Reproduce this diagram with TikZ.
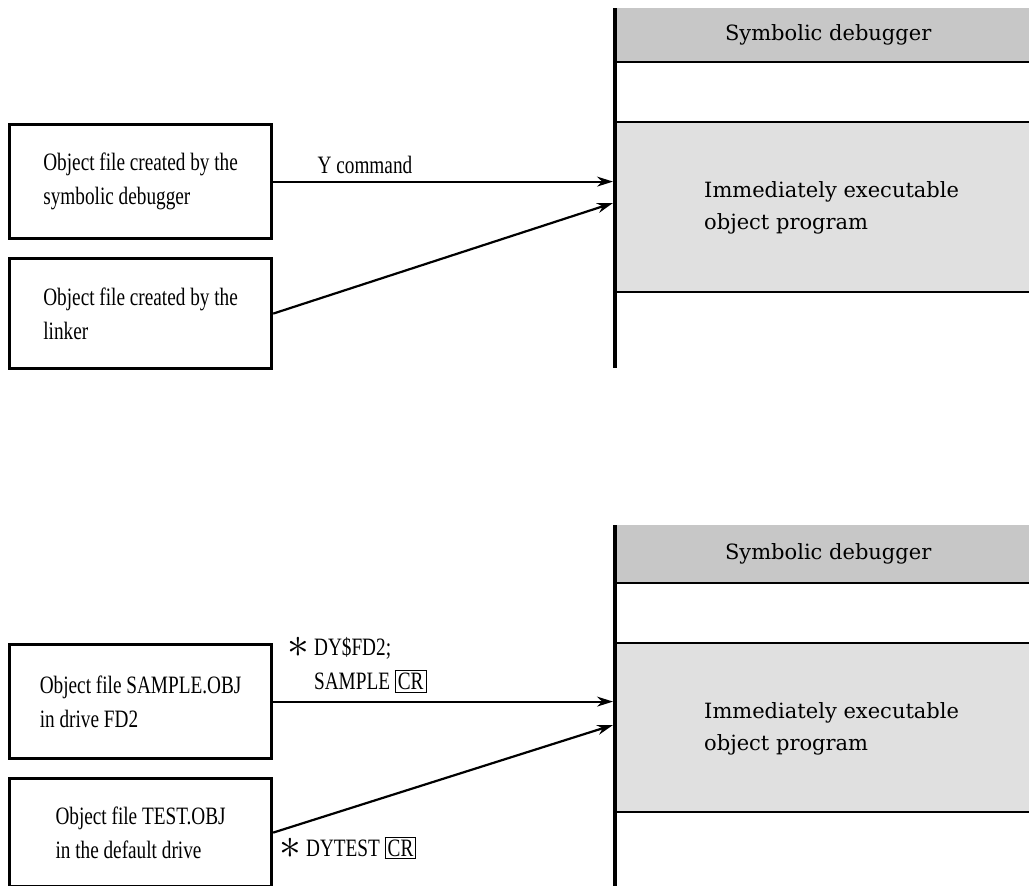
\documentclass[tikz,border=0pt]{standalone}
\usepackage{fontspec}
\setmainfont{Liberation Serif}
\newfontfamily\leftfont{Liberation Serif}[FakeStretch=0.77]
\newfontfamily\memfont{DejaVu Serif}
\usepackage{graphicx}
\usetikzlibrary{arrows.meta,positioning}
\definecolor{bandgray}{gray}{0.78}
\definecolor{execgray}{gray}{0.88}
\newcommand{\crkey}[1]{{\setlength{\fboxsep}{2pt}\setlength{\fboxrule}{1pt}\fbox{#1}}}
\newcommand{\astmark}{\raisebox{-2pt}{\scalebox{1.75}{$\ast$}}}
\newcommand{\memtext}[2]{\makebox[414pt][l]{\hspace*{89pt}\begin{tabular}{@{}l@{}}#1\\#2\end{tabular}}}

\begin{document}
\begin{tikzpicture}[x=1pt,y=-1pt,>={Stealth[length=16pt,width=10pt]},
  font=\leftfont\fontsize{25}{34}\selectfont,
  filebox/.style={draw,line width=3.2pt,minimum width=262pt,minimum height=114pt,anchor=north west,align=left},
  region/.style={anchor=north west,minimum width=414pt,inner sep=0pt,font=\memfont\fontsize{21}{32}\selectfont},
  memline/.style={line width=2.8pt},
  link/.style={->,line width=2.2pt}]
\useasboundingbox (0,0) rectangle (1029,886);
% upper memory map
\node[region,fill=bandgray,minimum height=54pt] (dbg1) at (615,8) {\makebox[414pt]{\hspace*{12pt}Symbolic debugger}};
\node[region,fill=execgray,minimum height=170pt] (exec1) at (615,122) {\raisebox{3pt}{\memtext{Immediately executable}{object program}}};
\foreach \y in {62,122,292} \draw[memline] (615,\y) -- (1029,\y);
\draw[memline,line width=3.6pt] (615,8) -- (615,368);
% lower memory map
\node[region,fill=bandgray,minimum height=58pt] (dbg2) at (615,525) {\makebox[414pt]{\hspace*{12pt}Symbolic debugger}};
\node[region,fill=execgray,minimum height=169pt] (exec2) at (615,643) {\raisebox{3pt}{\memtext{Immediately executable}{object program}}};
\foreach \y in {583,643,812} \draw[memline] (615,\y) -- (1029,\y);
\draw[memline,line width=3.6pt] (615,525) -- (615,886);
% object files
\node[filebox] (dbgfile) at (8,123) {Object file created by the\\symbolic debugger};
\node[filebox,minimum height=110pt] (lnkfile) at (8,257) {Object file created by the\\linker};
\node[filebox] (samplefile) at (8,643) {Object file SAMPLE.OBJ\\in drive FD2};
\node[filebox,minimum height=108pt] (testfile) at (8,777) {Object file TEST.OBJ\\in the default drive};
\coordinate (in1) at (613,203);
\coordinate (in2) at (613,725);
\draw[link] (dbgfile.east) -- node[pos=0.27,above=3pt] {Y command} ([xshift=-2pt]dbgfile.east -| exec1.west);
\draw[link] (lnkfile.east) -- (in1);
\draw[link] (samplefile.east) -- ([xshift=-2pt]samplefile.east -| exec2.west);
\draw[link] (testfile.east) -- (in2);
\node[anchor=west,align=left] (cmd1) at (284,665) {\astmark\ DY\$FD2;\\\phantom{\astmark\ }SAMPLE \crkey{CR}};
\node[anchor=west] (cmd2) at (276,848) {\astmark\ DYTEST \crkey{CR}};
\end{tikzpicture}
\end{document}
